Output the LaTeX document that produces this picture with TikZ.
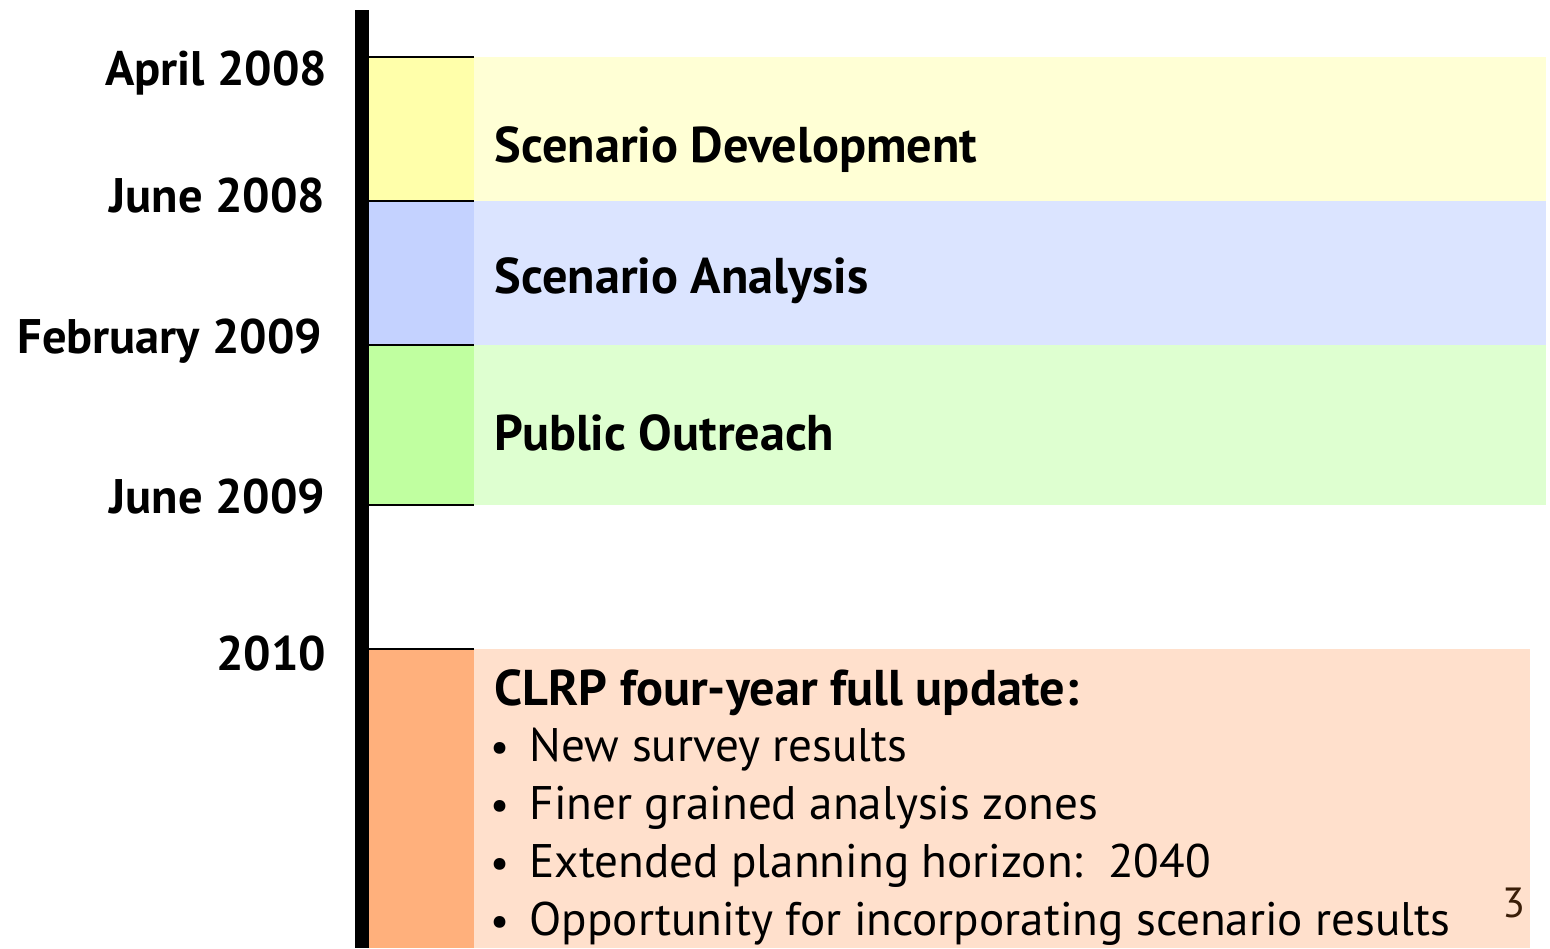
\documentclass[tikz,border=0pt]{standalone}
\usepackage{fontspec}
\setmainfont{PT Sans}

\definecolor{devdark}{RGB}{255,255,170}
\definecolor{devlight}{RGB}{255,255,213}
\definecolor{anadark}{RGB}{196,210,255}
\definecolor{analight}{RGB}{219,228,255}
\definecolor{pubdark}{RGB}{192,255,160}
\definecolor{publight}{RGB}{222,255,208}
\definecolor{clrpdark}{RGB}{255,176,124}
\definecolor{clrplight}{RGB}{255,224,204}
\definecolor{pagenum}{RGB}{58,30,8}

\begin{document}
\begin{tikzpicture}[x=0.1mm, y=-0.1mm,
        date/.style={anchor=base east, inner sep=0, font=\bfseries\fontsize{13.8}{16}\selectfont},
        phase/.style={anchor=base west, inner sep=0, font=\bfseries\fontsize{14.3}{16}\selectfont},
        item/.style={anchor=base west, inner sep=0, font=\fontsize{13.4}{16}\selectfont},
        dot/.style={anchor=base, inner sep=0, font=\fontsize{12}{16}\selectfont}]

        \useasboundingbox (0, 0) rectangle (1550, 948);

        % phase bands
        \fill[devlight]  (474, 57)  rectangle (1546, 201);
        \fill[devdark]   (369, 57)  rectangle (474, 201);
        \fill[analight]  (474, 201) rectangle (1546, 345);
        \fill[anadark]   (369, 201) rectangle (474, 345);
        \fill[publight]  (474, 345) rectangle (1546, 505);
        \fill[pubdark]   (369, 345) rectangle (474, 505);
        \fill[clrplight] (474, 649) rectangle (1530, 948);
        \fill[clrpdark]  (369, 649) rectangle (474, 948);

        % draw axis
        \fill (355, 10) rectangle (369, 948);

        \draw[line width=0.15mm] (369, 57)  -- (474, 57);
        \draw[line width=0.15mm] (369, 201) -- (474, 201);
        \draw[line width=0.15mm] (369, 345) -- (474, 345);
        \draw[line width=0.15mm] (369, 505) -- (474, 505);
        \draw[line width=0.15mm] (369, 649) -- (474, 649);

        \node[date] at (328, 85)  (apr08) {April 2008};
        \node[date] at (326, 212) (jun08) {June 2008};
        \node[date] at (323, 353) (feb09) {February 2009};
        \node[date] at (326, 513) (jun09) {June 2009};
        \node[date] at (327, 670) (y2010) {2010};

        \node[phase] at (494, 162) (dev) {Scenario Development};
        \node[phase] at (494, 293) (ana) {Scenario Analysis};
        \node[phase] at (494, 450) (pub) {Public Outreach};
        \node[phase] at (494, 705) (clrp) {CLRP four-year full update:};

        \node[dot] at (500, 761) (b1) {\textbullet};
        \node[dot] at (500, 819) (b2) {\textbullet};
        \node[dot] at (500, 877) (b3) {\textbullet};
        \node[dot] at (500, 935) (b4) {\textbullet};

        \node[item] at (529, 761) (survey)  {New survey results};
        \node[item] at (529, 819) (zones)   {Finer grained analysis zones};
        \node[item] at (529, 877) (horizon) {Extended planning horizon:\ \ 2040};
        \node[item] at (529, 935) (results) {Opportunity for incorporating scenario results};

        \node[anchor=base east, inner sep=0, text=pagenum, font=\fontsize{12}{15}\selectfont] at (1526, 917) (page) {3};

    \end{tikzpicture}
\end{document}
